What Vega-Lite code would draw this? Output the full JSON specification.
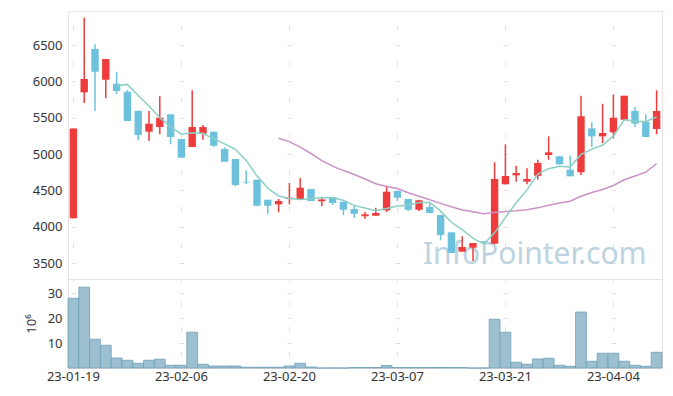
{
  "$schema": "https://vega.github.io/schema/vega-lite/v6.json",
  "padding": {"left": 24, "top": 10, "right": 10, "bottom": 5},
  "autosize": {"type": "pad"},
  "spacing": 0,
  "bounds": "flush",
  "config": {
    "view": {"stroke": "#ebe2e6", "strokeWidth": 1},
    "axis": {"labelFont": "Noto Sans", "labelFontSize": 13, "labelColor": "#333333", "titleFont": "Noto Sans", "titleFontSize": 13, "titleFontWeight": "normal", "titleColor": "#333333", "ticks": false, "domain": false, "gridColor": "#e9dde3", "gridWidth": 1}
  },
  "data": {"values": [
    {"d":"23-01-19","o":4115,"h":5350,"l":4115,"c":5350,"v":27.9,"ma5":null,"ma20":null},
    {"d":"23-01-20","o":5849,"h":6875,"l":5702,"c":6032,"v":32.3,"ma5":null,"ma20":null},
    {"d":"23-01-25","o":6445,"h":6509,"l":5592,"c":6132,"v":11.5,"ma5":null,"ma20":null},
    {"d":"23-01-26","o":6022,"h":6307,"l":5766,"c":6307,"v":9.1,"ma5":null,"ma20":null},
    {"d":"23-01-27","o":5967,"h":6132,"l":5821,"c":5867,"v":4.0,"ma5":5938,"ma20":null},
    {"d":"23-01-30","o":5857,"h":5880,"l":5454,"c":5454,"v":3.1,"ma5":5958,"ma20":null},
    {"d":"23-01-31","o":5592,"h":5600,"l":5188,"c":5261,"v":1.9,"ma5":5804,"ma20":null},
    {"d":"23-02-01","o":5307,"h":5592,"l":5179,"c":5417,"v":3.1,"ma5":5661,"ma20":null},
    {"d":"23-02-02","o":5371,"h":5794,"l":5271,"c":5500,"v":3.5,"ma5":5500,"ma20":null},
    {"d":"23-02-03","o":5546,"h":5546,"l":5133,"c":5234,"v":1.1,"ma5":5373,"ma20":null},
    {"d":"23-02-06","o":5206,"h":5206,"l":4949,"c":4949,"v":1.1,"ma5":5272,"ma20":null},
    {"d":"23-02-07","o":5096,"h":5876,"l":5096,"c":5371,"v":14.3,"ma5":5294,"ma20":null},
    {"d":"23-02-08","o":5279,"h":5399,"l":5197,"c":5371,"v":1.5,"ma5":5285,"ma20":null},
    {"d":"23-02-09","o":5307,"h":5307,"l":5100,"c":5114,"v":0.8,"ma5":5208,"ma20":null},
    {"d":"23-02-10","o":5069,"h":5090,"l":4894,"c":4894,"v":0.8,"ma5":5140,"ma20":null},
    {"d":"23-02-13","o":4931,"h":4931,"l":4555,"c":4573,"v":0.8,"ma5":5065,"ma20":null},
    {"d":"23-02-14","o":4620,"h":4776,"l":4583,"c":4610,"v":0.3,"ma5":4912,"ma20":null},
    {"d":"23-02-15","o":4646,"h":4646,"l":4280,"c":4288,"v":0.3,"ma5":4696,"ma20":null},
    {"d":"23-02-16","o":4371,"h":4371,"l":4178,"c":4288,"v":0.3,"ma5":4531,"ma20":null},
    {"d":"23-02-17","o":4308,"h":4381,"l":4198,"c":4353,"v":0.3,"ma5":4422,"ma20":5218},
    {"d":"23-02-20","o":4380,"h":4601,"l":4308,"c":4399,"v":0.8,"ma5":4388,"ma20":5171},
    {"d":"23-02-21","o":4371,"h":4665,"l":4371,"c":4536,"v":1.9,"ma5":4373,"ma20":5096},
    {"d":"23-02-22","o":4518,"h":4518,"l":4353,"c":4353,"v":0.4,"ma5":4386,"ma20":5007},
    {"d":"23-02-23","o":4350,"h":4399,"l":4280,"c":4375,"v":0,"ma5":4403,"ma20":4910},
    {"d":"23-02-24","o":4408,"h":4408,"l":4298,"c":4326,"v":0,"ma5":4398,"ma20":4833},
    {"d":"23-02-27","o":4344,"h":4344,"l":4160,"c":4233,"v":0,"ma5":4365,"ma20":4772},
    {"d":"23-02-28","o":4243,"h":4288,"l":4123,"c":4178,"v":0.2,"ma5":4293,"ma20":4718},
    {"d":"23-03-02","o":4143,"h":4206,"l":4105,"c":4170,"v":0.2,"ma5":4256,"ma20":4656},
    {"d":"23-03-03","o":4151,"h":4261,"l":4151,"c":4188,"v":0.2,"ma5":4219,"ma20":4590},
    {"d":"23-03-06","o":4225,"h":4564,"l":4198,"c":4481,"v":1.0,"ma5":4250,"ma20":4553},
    {"d":"23-03-07","o":4491,"h":4491,"l":4353,"c":4399,"v":0.2,"ma5":4283,"ma20":4525},
    {"d":"23-03-08","o":4381,"h":4381,"l":4215,"c":4233,"v":0.2,"ma5":4294,"ma20":4468},
    {"d":"23-03-09","o":4233,"h":4370,"l":4215,"c":4363,"v":0.2,"ma5":4333,"ma20":4418},
    {"d":"23-03-10","o":4271,"h":4326,"l":4188,"c":4188,"v":0.2,"ma5":4333,"ma20":4371},
    {"d":"23-03-13","o":4160,"h":4160,"l":3812,"c":3885,"v":0.2,"ma5":4214,"ma20":4321},
    {"d":"23-03-14","o":3922,"h":3922,"l":3638,"c":3638,"v":0.2,"ma5":4061,"ma20":4274},
    {"d":"23-03-15","o":3656,"h":3867,"l":3656,"c":3720,"v":0.2,"ma5":3959,"ma20":4230},
    {"d":"23-03-16","o":3711,"h":3775,"l":3528,"c":3775,"v":0,"ma5":3841,"ma20":4204},
    {"d":"23-03-17","o":3800,"h":3800,"l":3780,"c":3785,"v":0,"ma5":3761,"ma20":4179},
    {"d":"23-03-20","o":3766,"h":4886,"l":3766,"c":4656,"v":19.5,"ma5":3915,"ma20":4194},
    {"d":"23-03-21","o":4583,"h":5133,"l":4583,"c":4697,"v":14.3,"ma5":4127,"ma20":4209},
    {"d":"23-03-22","o":4707,"h":4839,"l":4619,"c":4738,"v":2.3,"ma5":4330,"ma20":4219},
    {"d":"23-03-23","o":4619,"h":4803,"l":4583,"c":4656,"v":1.5,"ma5":4506,"ma20":4234},
    {"d":"23-03-24","o":4701,"h":4921,"l":4646,"c":4876,"v":3.6,"ma5":4725,"ma20":4259},
    {"d":"23-03-27","o":4986,"h":5243,"l":4921,"c":5023,"v":3.9,"ma5":4798,"ma20":4294},
    {"d":"23-03-28","o":4968,"h":4968,"l":4858,"c":4858,"v":1.1,"ma5":4830,"ma20":4325},
    {"d":"23-03-29","o":4784,"h":4976,"l":4693,"c":4693,"v":0.7,"ma5":4821,"ma20":4351},
    {"d":"23-03-30","o":4748,"h":5802,"l":4711,"c":5519,"v":22.4,"ma5":4994,"ma20":4419},
    {"d":"23-03-31","o":5353,"h":5436,"l":5096,"c":5243,"v":2.7,"ma5":5067,"ma20":4471},
    {"d":"23-04-03","o":5243,"h":5692,"l":5151,"c":5289,"v":5.9,"ma5":5120,"ma20":4512},
    {"d":"23-04-04","o":5298,"h":5821,"l":5216,"c":5500,"v":5.9,"ma5":5249,"ma20":4567},
    {"d":"23-04-05","o":5472,"h":5802,"l":5472,"c":5802,"v":2.7,"ma5":5471,"ma20":4645},
    {"d":"23-04-06","o":5592,"h":5647,"l":5371,"c":5417,"v":1.1,"ma5":5450,"ma20":4698},
    {"d":"23-04-07","o":5444,"h":5546,"l":5234,"c":5234,"v":0.7,"ma5":5448,"ma20":4750},
    {"d":"23-04-10","o":5344,"h":5876,"l":5271,"c":5592,"v":6.3,"ma5":5509,"ma20":4866}
  ]},
  "vconcat": [
    {
      "width": 594,
      "height": 268,
      "encoding": {
        "x": {"field": "d", "type": "ordinal", "scale": {"paddingInner": 0, "paddingOuter": 0},
          "axis": {"orient": "top", "labels": false, "title": null, "labelPadding": 0, "minExtent": 0, "maxExtent": 0, "values": ["23-01-19","23-02-06","23-02-20","23-03-07","23-03-21","23-04-04"], "bandPosition": 0.5, "grid": true, "gridDash": [5, 31.33], "gridDashOffset": 4.83}}
      },
      "layer": [
        {
          "data": {"values": [{"t": "InfoPointer.com", "d": "23-03-24", "y": 3490}]},
          "mark": {"type": "text", "font": "Noto Sans", "fontSize": 30, "color": "#bdd3df", "baseline": "alphabetic", "align": "center", "dx": -3},
          "encoding": {"text": {"field": "t"}, "y": {"field": "y", "type": "quantitative"}}
        },
        {
          "mark": {"type": "rule", "strokeWidth": 1.5},
          "encoding": {
            "y": {"field": "l", "type": "quantitative", "scale": {"domain": [3280, 6968], "zero": false, "nice": false},
              "axis": {"title": null, "format": "d", "values": [3500,4000,4500,5000,5500,6000,6500], "labelPadding": 6, "grid": true, "gridDash": [5, 103], "gridDashOffset": 105.1}},
            "y2": {"field": "h"},
            "color": {"condition": {"test": "datum.c >= datum.o", "value": "#ee3b3b"}, "value": "#6cc2dc"}
          }
        },
        {
          "mark": {"type": "bar", "width": 7.4},
          "encoding": {
            "y": {"field": "o", "type": "quantitative"},
            "y2": {"field": "c"},
            "color": {"condition": {"test": "datum.c >= datum.o", "value": "#ee3b3b"}, "value": "#6cc2dc"}
          }
        },
        {
          "mark": {"type": "line", "color": "#cc92c8", "strokeWidth": 1.5},
          "encoding": {"y": {"field": "ma20", "type": "quantitative"}}
        },
        {
          "mark": {"type": "line", "color": "#8ccfc4", "strokeWidth": 1.5},
          "encoding": {"y": {"field": "ma5", "type": "quantitative"}}
        }
      ]
    },
    {
      "width": 594,
      "height": 89,
      "mark": {"type": "bar", "fill": "#9cc0d0", "stroke": "#6f9fb6", "strokeWidth": 0.8},
      "encoding": {
        "x": {"field": "d", "type": "ordinal", "scale": {"paddingInner": 0, "paddingOuter": 0},
          "axis": {"title": null, "labelAngle": 0, "labelPadding": 2, "values": ["23-01-19","23-02-06","23-02-20","23-03-07","23-03-21","23-04-04"], "bandPosition": 0.5, "grid": true, "gridDash": [5, 20], "gridDashOffset": 2.5}},
        "y": {"field": "v", "type": "quantitative", "scale": {"domain": [0, 35.6], "nice": false},
          "axis": {"title": "10⁶", "titlePadding": 9, "values": [10, 20, 30], "labelPadding": 6, "grid": true, "gridDash": [5, 103], "gridDashOffset": 105.1}}
      }
    }
  ]
}
